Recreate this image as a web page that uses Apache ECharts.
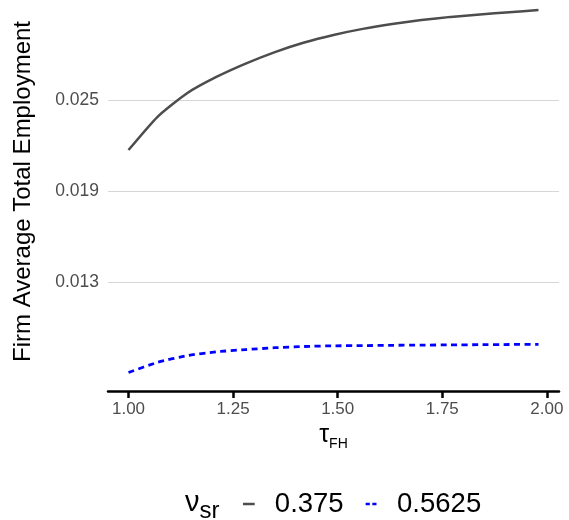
<!DOCTYPE html>
<html>
<head>
<meta charset="utf-8">
<script src="https://cdn.jsdelivr.net/npm/echarts@6/dist/echarts.min.js"></script>
<style>
  html, body { margin: 0; padding: 0; background: #fff; }
  #main { width: 569px; height: 520px; }
</style>
</head>
<body>
<div id="main"></div>
<script>
// tau_FH values on the x axis
var tau = [1.00, 1.07, 1.14, 1.21, 1.28, 1.35, 1.42, 1.49, 1.56, 1.63, 1.70, 1.77, 1.84, 1.91, 1.98];
// firm average total employment, nu_sr = 0.375
var emp375 = [0.02170, 0.02391, 0.02545, 0.02652, 0.02740, 0.02816, 0.02879, 0.02929,
              0.02969, 0.03001, 0.03027, 0.03048, 0.03064, 0.03079, 0.03093];
// firm average total employment, nu_sr = 0.5625
var emp5625 = [0.007033, 0.007706, 0.008147, 0.008398, 0.008543, 0.008668, 0.008747, 0.008793,
               0.008807, 0.008826, 0.008840, 0.008853, 0.008866, 0.008879, 0.008892];
var xTicks = [1.00, 1.25, 1.50, 1.75, 2.00];
var yTicks = [0.013, 0.019, 0.025];
var seriesNames = ['0.375', '0.5625'];

function pairs(xs, ys) {
    return xs.map(function (x, i) { return [x, ys[i]]; });
}

var chart = echarts.init(document.getElementById('main'), null, { renderer: 'canvas' });
var font = 'Liberation Sans, Arial, Helvetica, sans-serif';

var option = {
    backgroundColor: '#ffffff',
    animation: false,
    textStyle: { fontFamily: font },
    grid: { left: 108, right: 10, top: 0, bottom: 129, containLabel: false },
    xAxis: {
        type: 'value',
        min: 0.951,
        max: 2.029,
        name: '{t|τ}{s|FH}',
        nameLocation: 'middle',
        nameGap: 19,
        nameTextStyle: {
            rich: {
                t: { fontSize: 25, color: '#000', fontFamily: font, verticalAlign: 'bottom' },
                s: { fontSize: 14, color: '#000', fontFamily: font, verticalAlign: 'bottom', padding: [0, 0, -3, 0] }
            }
        },
        axisLine: { show: true, onZero: false, lineStyle: { color: '#000', width: 2.5 } },
        axisTick: { show: true, customValues: xTicks, length: 7, lineStyle: { color: '#000', width: 2.5 } },
        axisLabel: {
            customValues: xTicks,
            margin: 10,
            fontSize: 17,
            color: '#4d4d4d',
            formatter: function (v) { return v.toFixed(2); }
        },
        splitLine: { show: false }
    },
    yAxis: {
        type: 'value',
        min: 0.005813,
        max: 0.031593,
        name: 'Firm Average Total Employment',
        nameLocation: 'middle',
        nameRotate: 90,
        nameGap: 73,
        nameTextStyle: { fontSize: 24, color: '#000', padding: [0, 0, 0, 8] },
        axisLine: { show: false },
        axisTick: { show: false, customValues: yTicks },
        axisLabel: {
            customValues: yTicks,
            margin: 9,
            fontSize: 17.5,
            color: '#4d4d4d',
            formatter: function (v) { return v.toFixed(3); }
        },
        splitLine: { show: true, lineStyle: { color: '#d6d6d6', width: 1 } }
    },
    legend: {
        data: [
            { name: seriesNames[0], icon: 'path://M0,0h14v3h-14z' },
            { name: seriesNames[1], icon: 'path://M0,0h5v3h-5zM8,0h5v3h-5z' }
        ],
        left: 243,
        top: 490,
        padding: 0,
        itemWidth: 14,
        itemHeight: 2.5,
        itemGap: 22,
        textStyle: { fontSize: 27.5, color: '#000', padding: [0, 0, 0, 14] }
    },
    graphic: [{
        type: 'text',
        left: 185,
        top: 488,
        style: {
            text: '{n|ν}{s|sr}',
            rich: {
                n: { fontSize: 29, fill: '#000', fontFamily: font, verticalAlign: 'bottom' },
                s: { fontSize: 24, fill: '#000', fontFamily: font, verticalAlign: 'bottom', padding: [0, 0, -6, 0] }
            }
        }
    }],
    series: [{
        name: seriesNames[0],
        type: 'line',
        data: pairs(tau, emp375),
        smooth: 0.2,
        showSymbol: false,
        symbol: 'none',
        lineStyle: { color: '#4d4d4d', width: 2.5 },
        itemStyle: { color: '#4d4d4d' }
    }, {
        name: seriesNames[1],
        type: 'line',
        data: pairs(tau, emp5625),
        smooth: 0.2,
        showSymbol: false,
        symbol: 'none',
        lineStyle: { color: '#0000ff', width: 2.8, type: [6, 4.5] },
        itemStyle: { color: '#0000ff' }
    }]
};
chart.setOption(option);
</script>
</body>
</html>
